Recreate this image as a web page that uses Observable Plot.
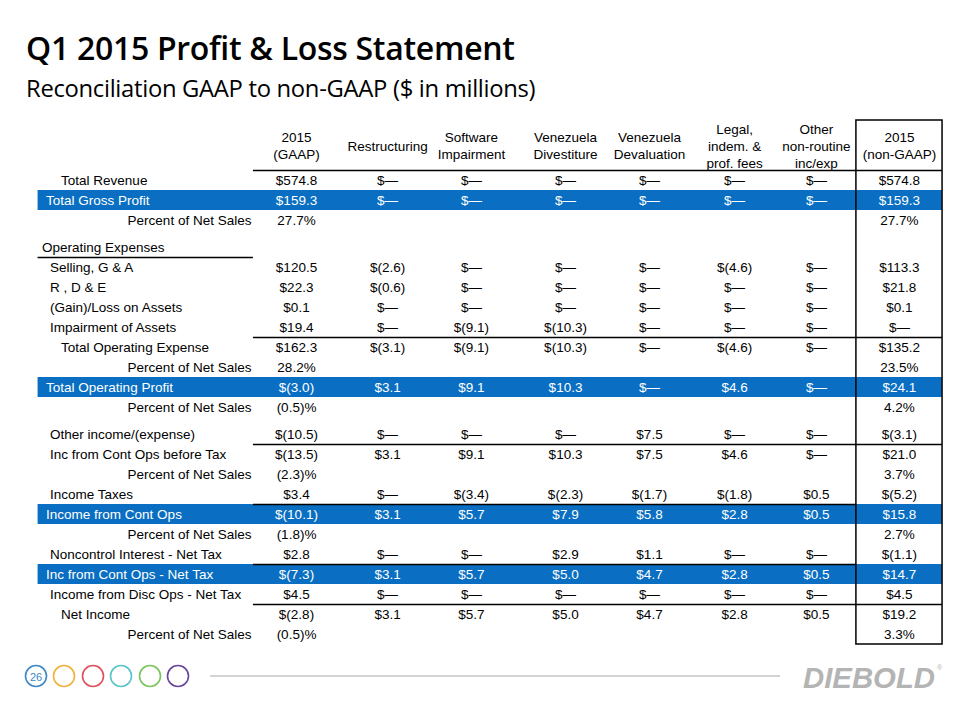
<!DOCTYPE html>
<html><head><meta charset="utf-8">
<script src="https://cdn.jsdelivr.net/npm/d3@7"></script>
<script src="https://cdn.jsdelivr.net/npm/@observablehq/plot@0.6"></script>
<style>
html,body{margin:0;padding:0;background:#fff}
body{width:960px;height:720px;overflow:hidden;position:relative;font-family:"Liberation Sans",Arial,sans-serif}
#title{position:absolute;left:26px;top:32px;font-family:"Open Sans",sans-serif;font-weight:600;font-size:32px;line-height:1;color:#000;white-space:nowrap;letter-spacing:-0.3px}
#subtitle{position:absolute;left:26px;top:77px;font-family:"Open Sans",sans-serif;font-weight:400;font-size:23.8px;line-height:1;color:#000;white-space:nowrap;letter-spacing:-0.3px}
#chart{position:absolute;left:0;top:110px}
#footer{position:absolute;left:0;top:655px}
</style></head>
<body>
<div id="title">Q1 2015 Profit &amp; Loss Statement</div>
<div id="subtitle">Reconciliation GAAP to non-GAAP ($ in millions)</div>
<div id="chart"></div>
<svg id="footer" width="960" height="50">
  <circle cx="36" cy="21" r="10.5" fill="none" stroke="#3f88c8" stroke-width="1.6"/>
  <text x="36" y="25.5" text-anchor="middle" font-family="Liberation Sans" font-size="11" fill="#3f88c8">26</text>
  <circle cx="64" cy="21" r="10.5" fill="none" stroke="#f0b23a" stroke-width="1.6"/>
  <circle cx="93" cy="21" r="10.5" fill="none" stroke="#e0505c" stroke-width="1.6"/>
  <circle cx="121" cy="21" r="10.5" fill="none" stroke="#5cc4c6" stroke-width="1.6"/>
  <circle cx="150" cy="21" r="10.5" fill="none" stroke="#7ac45c" stroke-width="1.6"/>
  <circle cx="178" cy="21" r="10.5" fill="none" stroke="#6a4598" stroke-width="1.6"/>
  <line x1="210" x2="780" y1="21" y2="21" stroke="#c4c4c4" stroke-width="1.5"/>
  <text x="803" y="33" font-family="Liberation Sans" font-weight="700" font-style="italic" font-size="29" fill="#b4b4b4" textLength="132" lengthAdjust="spacingAndGlyphs">DIEBOLD</text>
  <text x="937" y="15" font-family="Liberation Sans" font-size="7" fill="#b4b4b4">®</text>
</svg>
<script>
// ---------- DATA ----------
const columns = ["2015\n(GAAP)", "Restructuring", "Software\nImpairment", "Venezuela\nDivestiture",
  "Venezuela\nDevaluation", "Legal,\nindem. &\nprof. fees", "Other\nnon-routine\ninc/exp", "2015\n(non-GAAP)"];

const rowLabels = ["Total Revenue","Total Gross Profit","Percent of Net Sales","Operating Expenses",
  "Selling, G & A","R , D & E","(Gain)/Loss on Assets","Impairment of Assets","Total Operating Expense",
  "Percent of Net Sales","Total Operating Profit","Percent of Net Sales","Other income/(expense)",
  "Inc from Cont Ops before Tax","Percent of Net Sales","Income Taxes","Income from Cont Ops",
  "Percent of Net Sales","Noncontrol Interest - Net Tax","Inc from Cont Ops - Net Tax",
  "Income from Disc Ops - Net Tax","Net Income","Percent of Net Sales"];

const gaap = ["$574.8","$159.3","27.7%","","$120.5","$22.3","$0.1","$19.4","$162.3","28.2%","$(3.0)","(0.5)%","$(10.5)","$(13.5)","(2.3)%","$3.4","$(10.1)","(1.8)%","$2.8","$(7.3)","$4.5","$(2.8)","(0.5)%"];
const restructuring = ["$—","$—","","","$(2.6)","$(0.6)","$—","$—","$(3.1)","","$3.1","","$—","$3.1","","$—","$3.1","","$—","$3.1","$—","$3.1",""];
const software = ["$—","$—","","","$—","$—","$—","$(9.1)","$(9.1)","","$9.1","","$—","$9.1","","$(3.4)","$5.7","","$—","$5.7","$—","$5.7",""];
const divestiture = ["$—","$—","","","$—","$—","$—","$(10.3)","$(10.3)","","$10.3","","$—","$10.3","","$(2.3)","$7.9","","$2.9","$5.0","$—","$5.0",""];
const devaluation = ["$—","$—","","","$—","$—","$—","$—","$—","","$—","","$7.5","$7.5","","$(1.7)","$5.8","","$1.1","$4.7","$—","$4.7",""];
const legal = ["$—","$—","","","$(4.6)","$—","$—","$—","$(4.6)","","$4.6","","$—","$4.6","","$(1.8)","$2.8","","$—","$2.8","$—","$2.8",""];
const otherNonRoutine = ["$—","$—","","","$—","$—","$—","$—","$—","","$—","","$—","$—","","$0.5","$0.5","","$—","$0.5","$—","$0.5",""];
const nonGaap = ["$574.8","$159.3","27.7%","","$113.3","$21.8","$0.1","$—","$135.2","23.5%","$24.1","4.2%","$(3.1)","$21.0","3.7%","$(5.2)","$15.8","2.7%","$(1.1)","$14.7","$4.5","$19.2","3.3%"];

const series = [gaap, restructuring, software, divestiture, devaluation, legal, otherNonRoutine, nonGaap];

// ---------- LAYOUT / STYLE ----------
const rowStyle = ["sub","hl","pct","head","item","item","item","item","sub","pct","hl","pct","item","item","pct","item","hl","pct","item","hl","item","sub","pct"];
const gapAfter = new Set([2, 11]);          // extra space after these rows
const gapSize = 0.35;
const colShift = [0, 0.057, 0.031, 0.123, 0.098, 0.085, 0.036, 0];
const rulesAbove = [
  {row: 0, span: "values"}, {row: 4, span: "labels"}, {row: 8, span: "values"},
  {row: 13, span: "values"}, {row: 16, span: "inner"}, {row: 19, span: "inner"}, {row: 21, span: "values"}
];
const indent = {sub: 23, hl: 8, head: 4, item: 12};
const blue = "#0a6fc2";
const fontSize = 13.5;

// ---------- BUILD ----------
const pos = [];
let p = 0;
rowLabels.forEach((_, i) => { pos.push(p); p += 1 + (gapAfter.has(i) ? gapSize : 0); });
const lastPos = pos[pos.length - 1];

const rows = rowLabels.map((label, i) => ({label, i, y: pos[i], style: rowStyle[i]}));
const cells = [];
series.forEach((vals, c) => vals.forEach((v, r) => {
  if (v !== "") cells.push({x: c + colShift[c], y: pos[r], text: v, hl: rowStyle[r] === "hl"});
}));
const spans = {values: [-0.5, 7.5], labels: [-3, -0.5], inner: [-0.5, 6.5]};
const rules = rulesAbove.map(d => ({y: pos[d.row] - 0.5, x1: spans[d.span][0], x2: spans[d.span][1]}));
const headers = columns.map((t, c) => ({x: c + colShift[c], t}));

const step = 86.14, x0 = 296;
const chart = Plot.plot({
  width: 960, height: 550, margin: 0,
  style: {fontFamily: "'Liberation Sans', Arial, sans-serif", fontSize: fontSize + "px", background: "transparent"},
  x: {type: "linear", domain: [-3, 7.5], range: [x0 - 3 * step, x0 + 7.5 * step], axis: null},
  y: {type: "linear", domain: [-3, lastPos + 0.5], range: [10, 70 + 20 * (lastPos + 0.5)], axis: null},
  marks: [
    Plot.rect(rows.filter(d => d.style === "hl"), {x1: () => -3, x2: () => 7.5, y1: d => d.y - 0.5, y2: d => d.y + 0.5, fill: blue}),
    Plot.rect([0], {x1: () => 6.5, x2: () => 7.5, y1: () => -3, y2: () => lastPos + 0.5, fill: "none", stroke: "#000", strokeWidth: 1.5}),
    Plot.ruleY(rules, {y: "y", x1: "x1", x2: "x2", stroke: "#000", strokeWidth: 1.6}),
    Plot.text(headers, {x: "x", y: () => -1.75, text: "t", textAnchor: "middle", lineHeight: 1.25, fill: "#000", fontSize}),
    ...["sub", "hl", "head", "item"].map(s =>
      Plot.text(rows.filter(d => d.style === s), {x: () => -3, y: "y", text: "label", textAnchor: "start", dx: indent[s],
        fill: s === "hl" ? "#fff" : "#000", fontSize})),
    Plot.text(rows.filter(d => d.style === "pct"), {x: () => -0.5, y: "y", text: "label", textAnchor: "end", dx: -2, fill: "#000", fontSize}),
    Plot.text(cells, {x: "x", y: "y", text: "text", textAnchor: "middle", fill: d => d.hl ? "#fff" : "#000", fontSize})
  ]
});
document.getElementById("chart").appendChild(chart);
</script>
</body></html>
